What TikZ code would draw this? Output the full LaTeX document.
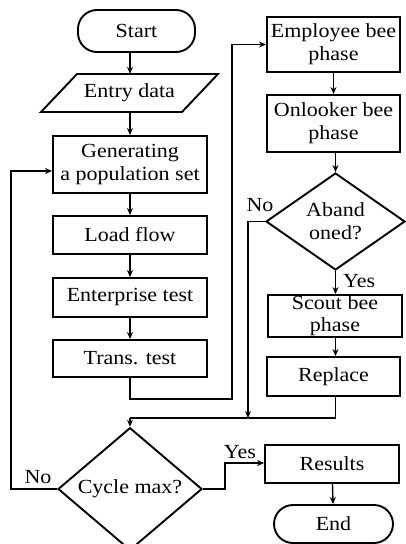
\documentclass[tikz,border=0pt]{standalone}
\usepackage{fontspec}
\setmainfont{Liberation Serif}[FakeStretch=1.1]
\usetikzlibrary{shapes.geometric,arrows.meta}
\begin{document}
\begin{tikzpicture}[x=1pt,y=-1pt,
  every node/.style={font=\fontsize{20}{24}\selectfont},
  procbox/.style={draw, line width=1.9pt, rectangle, minimum height=38, inner sep=0, align=center},
  termbox/.style={draw, line width=1.9pt, rectangle, rounded corners=19, minimum height=40, inner sep=0},
  decbox/.style={draw, line width=1.9pt, diamond, inner sep=0, align=center},
  conn/.style={line width=1.4pt},
  arr/.style={conn, -{Stealth[length=7pt,width=6pt]}},
  lbl/.style={inner sep=0}
]
\useasboundingbox (0,0) rectangle (406,544);
% left column
\node[termbox, minimum width=117, minimum height=42] (start) at (136.5,31) {Start};
\node[inner sep=0, minimum width=141, minimum height=38] (entry) at (129.5,93) {Entry data};
\draw[line width=1.9pt] (77,74) -- (218,74) -- (182,112) -- (41,112) -- cycle;
\node[procbox, minimum width=154, minimum height=57] (gen) at (130,164.5) {Generating\\[-1pt]a population set};
\node[procbox, minimum width=154] (load) at (130,235) {Load flow};
\node[procbox, minimum width=154, minimum height=39] (ent) at (130,297.5) {Enterprise test};
\node[procbox, minimum width=154, minimum height=37] (trans) at (130,358.5) {Trans. test};
\node[decbox, minimum width=144, minimum height=96] (cyc) at (130,489) {Cycle max?};
% right column
\node[procbox, minimum width=133, minimum height=55] (emp) at (333.5,44.5) {Employee bee\\[-1pt]phase};
\node[procbox, minimum width=133, minimum height=57] (onl) at (333.5,123.5) {Onlooker bee\\[-1pt]phase};
\node[decbox, minimum width=139, minimum height=97] (aband) at (335.5,221.5) {Aband\\[-1pt]oned?};
\node[procbox, minimum width=134, minimum height=42] (scout) at (335,316) {Scout bee\\[-2pt]phase};
\node[procbox, minimum width=133, minimum height=39] (rep) at (333.5,376.5) {Replace};
\node[procbox, minimum width=134] (res) at (332,464) {Results};
\node[termbox, minimum width=119, minimum height=38] (end) at (333.5,524) {End};
% labels
\node[lbl] (noA) at (260,205) {No};
\node[lbl, anchor=west] (yesA) at (343,281) {Yes};
\node[lbl] (noC) at (38,477) {No};
\node[lbl] (yesC) at (240,452) {Yes};
% coordinates
\coordinate (r1) at (232,399);
\coordinate (m) at (130,418);
\coordinate (nb) at (248,418);
\coordinate (l2) at (11,171);
\coordinate (y1) at (225,463);
% connectors
\draw[arr] (start.south -| gen) -- (entry.north -| gen);
\draw[arr] (entry.south -| gen) -- (gen.north);
\draw[arr] (gen) -- (load);
\draw[arr] (load) -- (ent);
\draw[arr] (ent) -- (trans);
\draw[arr] (trans.south) |- (r1) |- (emp.west);
\draw[arr] (emp) -- (onl);
\draw[arr] (onl.south -| aband) -- (aband.north);
\draw[arr] (aband.south) -- (scout.north -| aband);
\draw[arr] (scout.south -| aband) -- (rep.north -| aband);
\draw[conn] (rep.south -| aband) |- (m);
\draw[arr] (m) -- (cyc.north);
\draw[arr] (aband.west) -| (nb);
\draw[arr] (cyc.west) -| (l2) -- (gen.west |- l2);
\draw[arr] (cyc.east) -| (y1) -- (res.west |- y1);
\draw[arr] (res) -- (end);
\end{tikzpicture}
\end{document}
